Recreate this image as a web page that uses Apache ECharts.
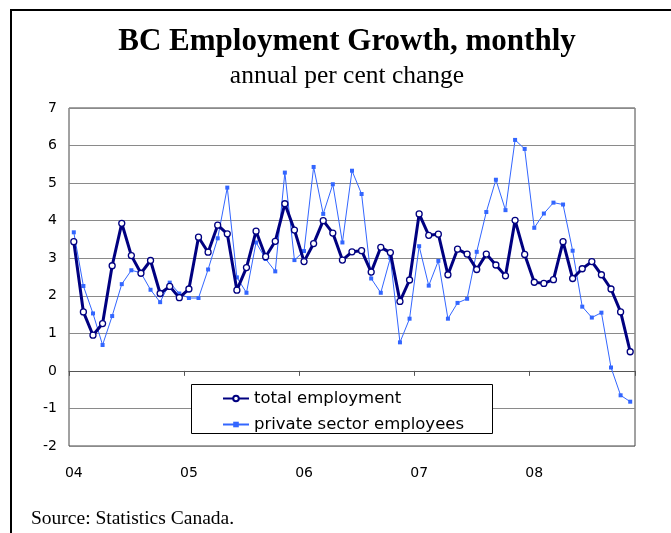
<!DOCTYPE html>
<html>
<head>
<meta charset="utf-8">
<script src="https://cdn.jsdelivr.net/npm/echarts@6/dist/echarts.min.js"></script>
<style>html,body{margin:0;padding:0;background:#fff}#c{width:671px;height:533px}</style>
</head>
<body>
<div id="c"></div>
<script>
var categories = [
 '2004-01','2004-02','2004-03','2004-04','2004-05','2004-06','2004-07','2004-08','2004-09','2004-10','2004-11','2004-12',
 '2005-01','2005-02','2005-03','2005-04','2005-05','2005-06','2005-07','2005-08','2005-09','2005-10','2005-11','2005-12',
 '2006-01','2006-02','2006-03','2006-04','2006-05','2006-06','2006-07','2006-08','2006-09','2006-10','2006-11','2006-12',
 '2007-01','2007-02','2007-03','2007-04','2007-05','2007-06','2007-07','2007-08','2007-09','2007-10','2007-11','2007-12',
 '2008-01','2008-02','2008-03','2008-04','2008-05','2008-06','2008-07','2008-08','2008-09','2008-10','2008-11'
];
var yearLabels = ['04','05','06','07','08'];
var totalEmployment = [3.44,1.57,0.95,1.26,2.80,3.93,3.07,2.60,2.94,2.06,2.25,1.95,
 2.18,3.56,3.16,3.88,3.65,2.15,2.75,3.72,3.04,3.45,4.45,3.75,
 2.91,3.39,4.00,3.67,2.95,3.17,3.20,2.63,3.29,3.15,1.85,2.42,
 4.18,3.61,3.64,2.56,3.24,3.11,2.70,3.11,2.82,2.53,4.01,3.10,
 2.36,2.33,2.43,3.44,2.46,2.72,2.91,2.56,2.18,1.57,0.51];
var privateEmployees = [3.69,2.26,1.53,0.69,1.46,2.31,2.68,2.61,2.16,1.83,2.35,2.06,
 1.94,1.94,2.70,3.53,4.88,2.49,2.08,3.42,2.98,2.65,5.28,2.95,
 3.19,5.43,4.18,4.97,3.42,5.33,4.71,2.46,2.08,3.01,0.76,1.39,
 3.32,2.27,2.93,1.39,1.81,1.92,3.17,4.23,5.09,4.28,6.15,5.91,
 3.81,4.19,4.48,4.43,3.20,1.71,1.42,1.55,0.09,-0.65,-0.82];

var chart = echarts.init(document.getElementById('c'), null, {renderer:'canvas'});
var sans = 'DejaVu Sans';
var serif = 'Liberation Serif';
chart.setOption({
  animation: false,
  backgroundColor: '#fff',
  grid: {left: 69, top: 108, width: 566, height: 338, show: true, borderColor: '#444', borderWidth: 1, backgroundColor: 'transparent'},
  xAxis: [{
    type: 'category', data: categories, position: 'bottom',
    axisLine: {show: false, onZero: false},
    axisTick: {show: false},
    axisLabel: {interval: 11, margin: 20, color: '#000', fontFamily: sans, fontSize: 14,
      formatter: function (v, i) { return yearLabels[Math.round(i / 12)]; }},
    splitLine: {show: false}
  }, {
    type: 'category', data: categories, position: 'bottom',
    axisLine: {show: true, onZero: true, lineStyle: {color: '#555', width: 1}},
    axisTick: {show: true, interval: 11, length: 5, inside: false, lineStyle: {color: '#555'}},
    axisLabel: {show: false},
    splitLine: {show: false}
  }],
  yAxis: {
    type: 'value', min: -2, max: 7, interval: 1,
    axisLine: {show: false}, axisTick: {show: false},
    axisLabel: {color: '#000', fontFamily: sans, fontSize: 14, margin: 12},
    splitLine: {lineStyle: {color: '#8a8a8a', width: 1}}
  },
  legend: {
    orient: 'vertical', left: 222, top: 390, padding: 0, itemGap: 9,
    itemWidth: 26, itemHeight: 7, z: 20,
    textStyle: {fontFamily: sans, fontSize: 16.5, color: '#000'},
    data: ['total employment', 'private sector employees']
  },
  graphic: [
    {type: 'rect', shape: {x: 191.5, y: 384.5, width: 301, height: 49}, style: {fill: '#fff', stroke: '#000', lineWidth: 1}, z: 10},
    {type: 'line', shape: {x1: 11, y1: 10, x2: 11, y2: 533}, style: {stroke: '#000', lineWidth: 2}},
    {type: 'line', shape: {x1: 10, y1: 10, x2: 671, y2: 10}, style: {stroke: '#000', lineWidth: 2}},
    {type: 'text', x: 347, y: 42, style: {text: 'BC Employment Growth, monthly', fontFamily: serif, fontWeight: 'bold', fontSize: 31, fill: '#000', textAlign: 'center', textVerticalAlign: 'middle'}},
    {type: 'text', x: 347, y: 76, style: {text: 'annual per cent change', fontFamily: serif, fontSize: 25.5, fill: '#000', textAlign: 'center', textVerticalAlign: 'middle'}},
    {type: 'text', x: 31, y: 519, style: {text: 'Source: Statistics Canada.', fontFamily: serif, fontSize: 19.5, fill: '#000', textAlign: 'left', textVerticalAlign: 'middle'}}
  ],
  series: [{
    name: 'total employment', type: 'line', data: totalEmployment, xAxisIndex: 0, z: 4,
    symbol: 'circle', symbolSize: 6, showAllSymbol: true,
    lineStyle: {color: '#000080', width: 3},
    itemStyle: {color: '#fff', borderColor: '#000080', borderWidth: 1.3}
  }, {
    name: 'private sector employees', type: 'line', data: privateEmployees, xAxisIndex: 0, z: 3,
    symbol: 'rect', symbolSize: 4, showAllSymbol: true,
    lineStyle: {color: '#3366ff', width: 1},
    itemStyle: {color: '#3366ff'}
  }]
});
</script>
</body>
</html>
